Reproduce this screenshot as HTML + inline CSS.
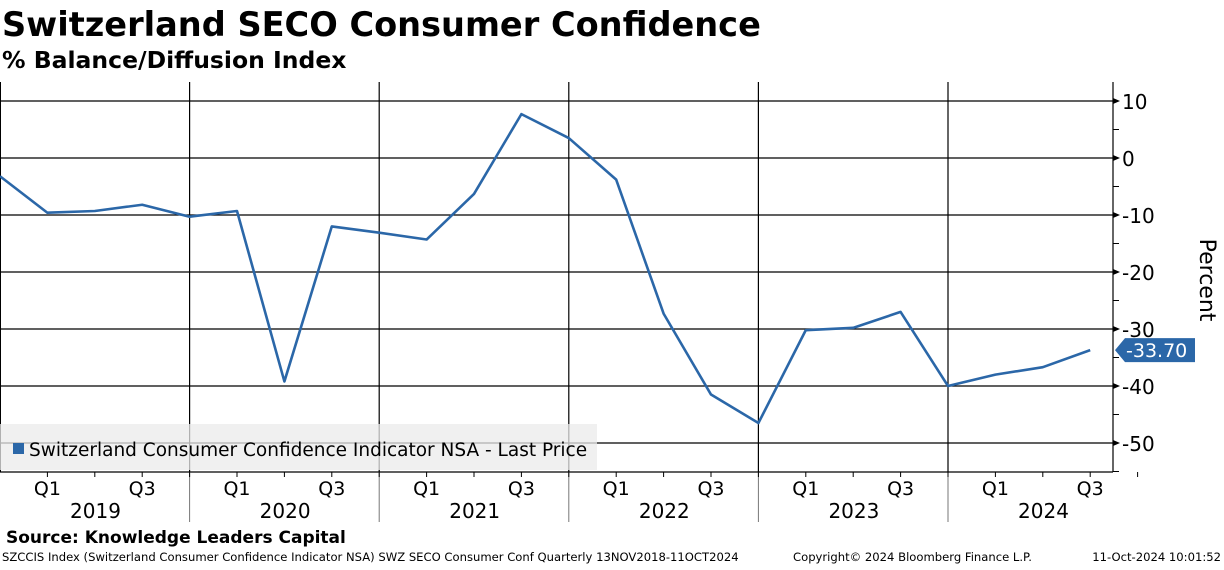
<!DOCTYPE html>
<html><head><meta charset="utf-8"><style>
body{margin:0;width:1224px;height:566px;background:#fff;overflow:hidden;font-family:"DejaVu Sans","Liberation Sans",sans-serif;}
svg text{font-family:"DejaVu Sans","Liberation Sans",sans-serif;}
</style></head><body>
<svg id="chart" width="1224" height="566" xmlns="http://www.w3.org/2000/svg">
<text x="2" y="36" font-size="33.6" font-weight="bold" fill="#000">Switzerland SECO Consumer Confidence</text>
<text x="2" y="68" font-size="23.5" font-weight="bold" fill="#000">% Balance/Diffusion Index</text>
<g id="grid"></g>
<rect x="0" y="424" width="597" height="46" fill="#ebebeb" fill-opacity="0.75"/>
<rect x="13" y="443" width="11" height="11" fill="#2b67a8"/>
<text x="29" y="456" font-size="18.5" fill="#000">Switzerland Consumer Confidence Indicator NSA - Last Price</text>
<g id="series"></g>
<text transform="translate(1200,280) rotate(90)" text-anchor="middle" font-size="22" fill="#000">Percent</text>
<text x="6" y="543" font-size="17" font-weight="bold" fill="#000">Source: Knowledge Leaders Capital</text>
<text x="2" y="561" font-size="11.6" fill="#000">SZCCIS Index (Switzerland Consumer Confidence Indicator NSA) SWZ SECO Consumer Conf  Quarterly 13NOV2018-11OCT2024</text>
<text x="793" y="561" font-size="11.6" fill="#000">Copyright© 2024 Bloomberg Finance L.P.</text>
<text x="1221" y="561" font-size="11.6" fill="#000" text-anchor="end">11-Oct-2024 10:01:52</text>
</svg>
<script>
const values=[-3.2,-9.6,-9.3,-8.2,-10.3,-9.3,-39.2,-12,-13.1,-14.3,-6.3,7.7,3.5,-3.8,-27.3,-41.5,-46.5,-30.2,-29.8,-27,-40,-38,-36.7,-33.7];
const yTicks=[10,0,-10,-20,-30,-40,-50];
const yTickLabels=["10","0","-10","-20","-30","-40","-50"];
const years=["2019","2020","2021","2022","2023","2024"];
const lastLabel="-33.70";
const NS="http://www.w3.org/2000/svg";
const X0=0,DX=47.4,TOP=82,BOT=472,RIGHT=1113;
const x=i=>X0+i*DX;
const y=v=>158-5.7*v;
function mk(t,a,p){const e=document.createElementNS(NS,t);for(const k in a)e.setAttribute(k,a[k]);p.appendChild(e);return e;}
const g=document.getElementById('grid'),s=document.getElementById('series');
yTicks.forEach((v,i)=>{
 const l=mk('line',{x1:0,x2:RIGHT,y1:y(v),y2:y(v),stroke:'#000','stroke-width':1.2},g);
 
 
 mk('polygon',{points:`${RIGHT},${y(v)-3} ${RIGHT+7},${y(v)} ${RIGHT},${y(v)+3}`,fill:'#000'},g);
 mk('line',{x1:RIGHT,x2:RIGHT+6,y1:y(v)+28.5,y2:y(v)+28.5,stroke:'#000'},g);
 const t=mk('text',{x:RIGHT+9,y:y(v)+8,'font-size':20,fill:'#000'},g);t.textContent=yTickLabels[i];
 
 
});
mk('line',{x1:RIGHT,x2:RIGHT,y1:TOP,y2:BOT,stroke:'#000','stroke-width':1.2},g);
mk('line',{x1:0,x2:RIGHT,y1:BOT,y2:BOT,stroke:'#000','stroke-width':1.2},g);
mk('line',{x1:0.5,x2:0.5,y1:TOP,y2:BOT,stroke:'#000'},g);
years.forEach((yr,k)=>{
 const bx=x(4*k+4);
 if(k<years.length-1){
  mk('line',{x1:bx,x2:bx,y1:TOP,y2:BOT,stroke:'#000','stroke-width':1.2},g);
  mk('line',{x1:bx,x2:bx,y1:BOT,y2:522,stroke:'#777'},g);
 }
 for(let q=1;q<=4;q++){const qx=x(4*k+q);mk('line',{x1:qx,x2:qx,y1:BOT,y2:BOT+5,stroke:'#000'},g);}
 [1,3].forEach(q=>{const t=mk('text',{x:x(4*k+q),y:495,'font-size':19,'text-anchor':'middle',fill:'#000'},g);t.textContent='Q'+q;
  
  });
 const t=mk('text',{x:x(4*k+2.5)-23,y:518,'font-size':20,'text-anchor':'middle',fill:'#000'},g);t.textContent=yr;
 
 
});
const pl=mk('polyline',{points:values.map((v,i)=>x(i)+','+y(v)).join(' '),fill:'none',stroke:'#2b67a8','stroke-width':2.6,'stroke-linejoin':'round'},s);


const lv=values[values.length-1],ly=y(lv);
const tag=mk('polygon',{points:`${RIGHT+2},${ly} ${RIGHT+12},${ly-12} ${RIGHT+82},${ly-12} ${RIGHT+82},${ly+12} ${RIGHT+12},${ly+12}`,fill:'#2b67a8'},s);


const tt=mk('text',{x:RIGHT+13,y:ly+7,'font-size':19,fill:'#fff'},s);tt.textContent=lastLabel;


</script>
</body></html>
